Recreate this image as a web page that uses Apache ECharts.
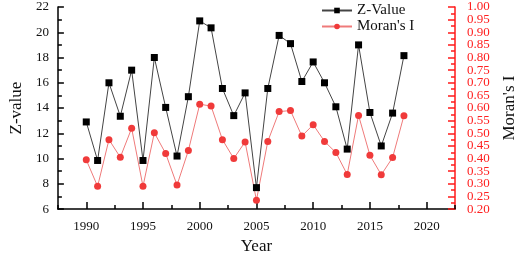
<!DOCTYPE html>
<html>
<head>
<meta charset="utf-8">
<title>Z-Value and Moran's I</title>
<script src="https://cdn.jsdelivr.net/npm/echarts@6/dist/echarts.min.js"></script>
<style>
  html, body { margin: 0; padding: 0; background: #fff; }
  #chart { width: 526px; height: 260px; }
</style>
</head>
<body>
<div id="chart"></div>
<script>
const years = [1990, 1991, 1992, 1993, 1994, 1995, 1996, 1997, 1998, 1999,
  2000, 2001, 2002, 2003, 2004, 2005, 2006, 2007, 2008, 2009,
  2010, 2011, 2012, 2013, 2014, 2015, 2016, 2017, 2018]
const zValue = [12.9, 9.85, 16.0, 13.35, 17.0, 9.85, 18.0, 14.05, 10.2, 14.9,
  20.9, 20.35, 15.55, 13.4, 15.2, 7.7, 15.55, 19.75, 19.1, 16.1,
  17.65, 16.0, 14.1, 10.75, 19.0, 13.65, 11.0, 13.6, 18.15]
const moransI = [0.395, 0.29, 0.475, 0.405, 0.52, 0.29, 0.502, 0.42, 0.295, 0.432,
  0.615, 0.608, 0.475, 0.40, 0.466, 0.235, 0.468, 0.586, 0.59, 0.489,
  0.534, 0.468, 0.424, 0.337, 0.571, 0.413, 0.336, 0.404, 0.57]
const yearTicks = [1990, 1995, 2000, 2005, 2010, 2015, 2020]
const yearMinorTicks = [1987.5, 1992.5, 1997.5, 2002.5, 2007.5, 2012.5, 2017.5, 2022.5]
// right axis labels, split in two sets so none get dropped for overlap
const moranTicksA = [0.20, 0.30, 0.40, 0.50, 0.60, 0.70, 0.80, 0.90, 1.00]
const moranTicksB = [0.25, 0.35, 0.45, 0.55, 0.65, 0.75, 0.85, 0.95]

const font = 'Liberation Serif'

function moranAxis(values, main) {
  return {
    type: 'value',
    min: 0.2,
    max: 1.0,
    interval: 0.05,
    position: 'right',
    name: main ? "Moran's I" : '',
    nameLocation: 'middle',
    nameGap: 46,
    nameRotate: 90,
    nameTextStyle: { fontFamily: font, fontSize: 17, color: '#111' },
    splitLine: { show: false },
    axisLine: { show: main, lineStyle: { color: '#ff1a1a', width: 1.5 } },
    axisTick: { show: main, inside: true, length: 7, lineStyle: { color: '#ff1a1a', width: 1.5 } },
    minorTick: { show: main, splitNumber: 2, length: 4, lineStyle: { color: '#ff1a1a', width: 1.5 } },
    axisLabel: {
      customValues: values,
      showMinLabel: true,
      showMaxLabel: true,
      hideOverlap: false,
      margin: 12,
      fontFamily: font,
      fontSize: 13,
      color: '#ff2020',
      formatter: v => v.toFixed(2)
    },
  }
}

let dom = echarts.init(document.getElementById('chart'))
let option = {
  animation: false,
  textStyle: { fontFamily: font },
  grid: {
    left: 45,
    right: 61,
    top: 7,
    bottom: 46,
  },
  legend: {
    orient: 'vertical',
    left: 316,
    top: -2,
    itemWidth: 30,
    itemHeight: 7,
    itemGap: 1,
    textStyle: { fontFamily: font, fontSize: 15, color: '#111' },
    data: ['Z-Value', "Moran's I"]
  },
  xAxis: [
    {
      type: 'value',
      min: 1987.5,
      max: 2022.5,
      name: 'Year',
      nameLocation: 'middle',
      nameGap: 24,
      nameTextStyle: { fontFamily: font, fontSize: 17, color: '#111' },
      splitLine: { show: false },
      axisLine: { lineStyle: { color: '#000', width: 1.5 } },
      axisTick: {
        inside: true,
        length: 7,
        customValues: yearTicks,
        lineStyle: { color: '#000', width: 1.5 }
      },
      axisLabel: {
        customValues: yearTicks,
        margin: 11,
        fontFamily: font,
        fontSize: 13,
        color: '#111',
        formatter: v => String(v)
      },
    },
    {
      type: 'value',
      min: 1987.5,
      max: 2022.5,
      position: 'bottom',
      splitLine: { show: false },
      axisLine: { show: false },
      axisLabel: { show: false },
      axisTick: {
        inside: true,
        length: 4,
        customValues: yearMinorTicks,
        lineStyle: { color: '#000', width: 1.5 }
      },
    }
  ],
  yAxis: [
    {
      type: 'value',
      min: 6,
      max: 22,
      interval: 2,
      name: 'Z-value',
      nameLocation: 'middle',
      nameGap: 29,
      nameTextStyle: { fontFamily: font, fontSize: 17, color: '#111' },
      splitLine: { show: false },
      axisLine: { show: true, lineStyle: { color: '#000', width: 1.5 } },
      axisTick: { inside: true, length: 6, lineStyle: { color: '#000', width: 1.5 } },
      minorTick: { show: true, splitNumber: 2, length: 4, lineStyle: { color: '#000', width: 1.5 } },
      axisLabel: { margin: 9, fontFamily: font, fontSize: 13, color: '#111', showMinLabel: true, showMaxLabel: true },
    },
    moranAxis(moranTicksA, true),
    moranAxis(moranTicksB, false)
  ],
  series: [
    {
      name: 'Z-Value',
      type: 'line',
      xAxisIndex: 0,
      yAxisIndex: 0,
      symbol: 'rect',
      symbolSize: 7,
      itemStyle: { color: '#000' },
      lineStyle: { color: '#444', width: 1 },
      data: years.map((y, i) => [y, zValue[i]])
    },
    {
      name: "Moran's I",
      type: 'line',
      xAxisIndex: 0,
      yAxisIndex: 1,
      symbol: 'circle',
      symbolSize: 7,
      itemStyle: { color: '#f03a3a' },
      lineStyle: { color: '#ef7a7a', width: 1 },
      data: years.map((y, i) => [y, moransI[i]])
    }
  ]
}
dom.setOption(option)
window.addEventListener('resize', dom.resize)
</script>
</body>
</html>
